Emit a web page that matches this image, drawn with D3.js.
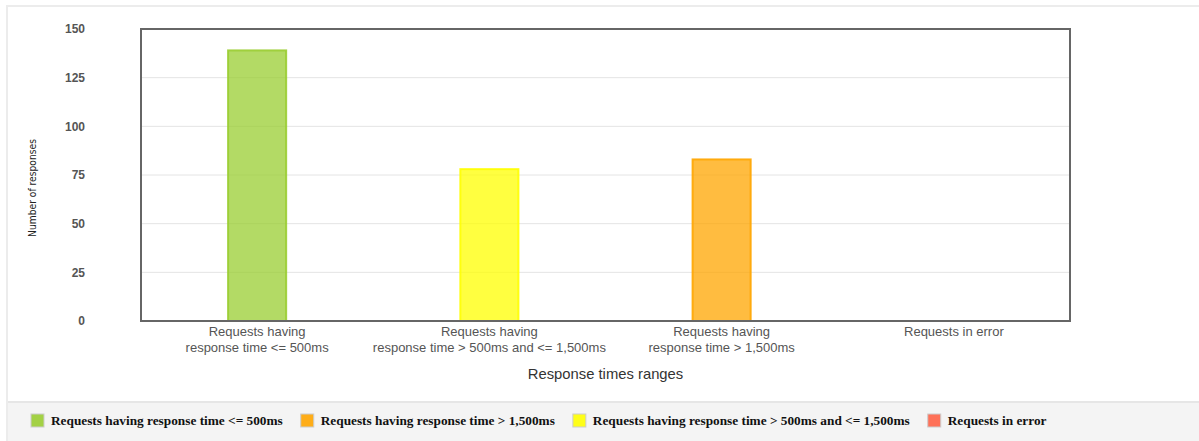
<!DOCTYPE html>
<html>
<head>
<meta charset="utf-8">
<script src="https://cdn.jsdelivr.net/npm/d3@7"></script>
<style>
  html, body { margin: 0; padding: 0; background: #fff; }
  svg { display: block; }
</style>
</head>
<body>
<svg id="chart" width="1199" height="441"></svg>
<script>
// Response time distribution
const categories = [
  "Requests having response time <= 500ms",
  "Requests having response time > 500ms and <= 1,500ms",
  "Requests having response time > 1,500ms",
  "Requests in error"
];
const categoryLines = [
  ["Requests having", "response time <= 500ms"],
  ["Requests having", "response time > 500ms and <= 1,500ms"],
  ["Requests having", "response time > 1,500ms"],
  ["Requests in error"]
];
const counts = [139, 78, 83, 0];
const yTicks = [0, 25, 50, 75, 100, 125, 150];
const barColors = ["#9acd32", "#ffff00", "#ffa500", "#ff6347"];
const legendOrder = [0, 2, 1, 3];

const svg = d3.select("#chart");
const W = 1199, H = 441;

// outer panel frame and legend strip
svg.append("rect").attr("x", 7).attr("y", 6).attr("width", W + 10).attr("height", H)
  .attr("fill", "#fff").attr("stroke", "#ececec").attr("stroke-width", 2);
svg.append("rect").attr("x", 8).attr("y", 402).attr("width", W).attr("height", 60)
  .attr("fill", "#f4f4f4");
svg.append("line").attr("x1", 8).attr("x2", W).attr("y1", 402).attr("y2", 402)
  .attr("stroke", "#e6e6e6").attr("stroke-width", 2);

const plot = { left: 141, right: 1070, top: 29, bottom: 321 };

const x = d3.scaleBand().domain(categories).range([plot.left, plot.right]).paddingInner(0).paddingOuter(0);
const y = d3.scaleLinear().domain([0, 150]).range([plot.bottom, plot.top]);

// gridlines
svg.append("g").selectAll("line").data(yTicks.filter(t => t > 0 && t < 150)).join("line")
  .attr("x1", plot.left).attr("x2", plot.right)
  .attr("y1", d => y(d)).attr("y2", d => y(d))
  .attr("stroke", "#e4e4e4").attr("stroke-width", 1);

// y tick labels
const yAxis = d3.axisLeft(y).tickValues(yTicks).tickSize(0).tickPadding(0);
const gy = svg.append("g").attr("transform", "translate(85,0)").call(yAxis);
gy.select(".domain").remove();
gy.selectAll("text")
  .attr("font-family", "Liberation Sans, Arial, sans-serif")
  .attr("font-size", 12).attr("font-weight", "bold").attr("fill", "#555");

// bars
const bw = x.bandwidth() * 0.25;
svg.append("g").selectAll("rect").data(categories).join("rect")
  .attr("x", d => x(d) + x.bandwidth() / 2 - bw / 2)
  .attr("y", (d, i) => y(counts[i]))
  .attr("width", bw)
  .attr("height", (d, i) => y(0) - y(counts[i]))
  .attr("fill", (d, i) => barColors[i]).attr("fill-opacity", 0.75)
  .attr("stroke", (d, i) => barColors[i]).attr("stroke-width", 2)
  .attr("stroke-opacity", (d, i) => counts[i] > 0 ? 0.9 : 0);

// plot frame
svg.append("rect")
  .attr("x", plot.left).attr("y", plot.top)
  .attr("width", plot.right - plot.left).attr("height", plot.bottom - plot.top)
  .attr("fill", "none").attr("stroke", "#666").attr("stroke-width", 2);

// category labels
const gx = svg.append("g");
categories.forEach((c, i) => {
  const t = gx.append("text")
    .attr("x", x(c) + x.bandwidth() / 2)
    .attr("y", 336)
    .attr("text-anchor", "middle")
    .attr("font-family", "Liberation Sans, Arial, sans-serif")
    .attr("font-size", 13).attr("fill", "#555");
  categoryLines[i].forEach((ln, j) => {
    t.append("tspan").attr("x", x(c) + x.bandwidth() / 2).attr("dy", j === 0 ? 0 : 16).text(ln);
  });
});

// axis titles
svg.append("text")
  .attr("x", (plot.left + plot.right) / 2).attr("y", 379)
  .attr("text-anchor", "middle")
  .attr("font-family", "Liberation Sans, Arial, sans-serif")
  .attr("font-size", 14.8).attr("fill", "#333")
  .text("Response times ranges");

svg.append("text")
  .attr("transform", "translate(36,188) rotate(-90)")
  .attr("text-anchor", "middle")
  .attr("font-family", "DejaVu Sans Condensed, DejaVu Sans, sans-serif")
  .attr("font-stretch", "condensed")
  .attr("font-size", 10.2).attr("fill", "#222")
  .text("Number of responses");

// legend
const lg = svg.append("g");
let lx = 31;
legendOrder.forEach(i => {
  lg.append("rect").attr("x", lx).attr("y", 414).attr("width", 13).attr("height", 13)
    .attr("fill", barColors[i]).attr("fill-opacity", 0.9)
    .attr("stroke", "#ccc").attr("stroke-width", 1);
  const t = lg.append("text").attr("x", lx + 20).attr("y", 425)
    .attr("font-family", "Liberation Serif, Times New Roman, serif")
    .attr("font-size", 13.3).attr("font-weight", "bold").attr("fill", "#111")
    .text(categories[i]);
  lx += 20 + t.node().getComputedTextLength() + 18;
});
</script>
</body>
</html>
